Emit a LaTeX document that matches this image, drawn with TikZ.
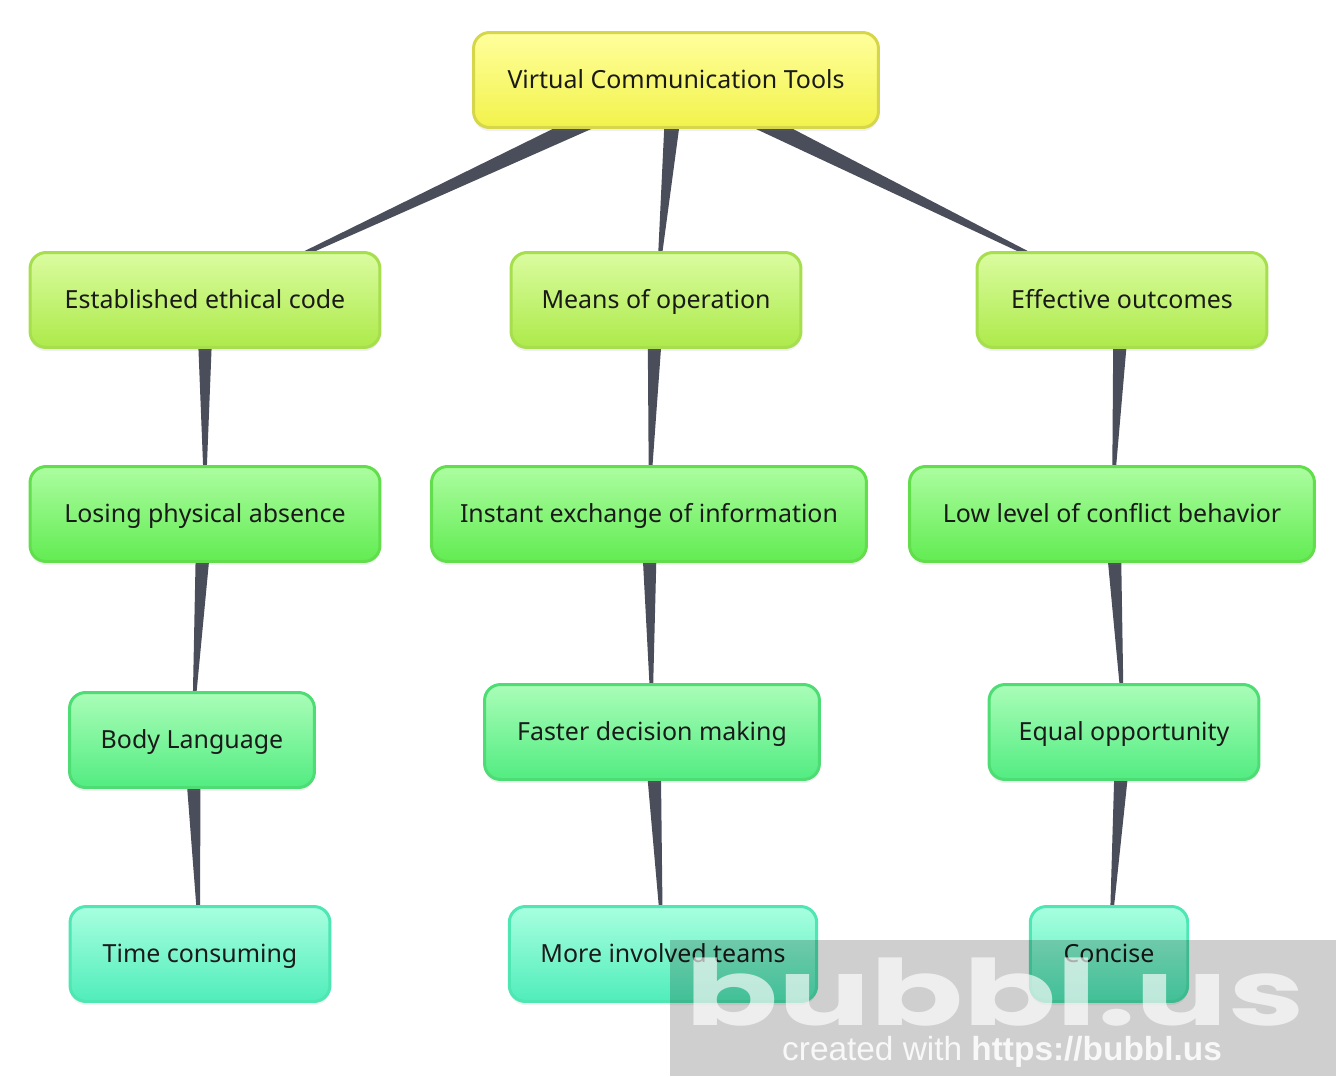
\documentclass[tikz,border=0pt]{standalone}
\usepackage{fontspec}
\setmainfont{Noto Sans}
\newfontfamily\markfont{Poppins}
\newfontfamily\urlfont{Liberation Sans}
\usetikzlibrary{calc,shadows,backgrounds}

\definecolor{txt}{HTML}{1A1A1A}
\definecolor{linkcol}{HTML}{4A4D5A}
\definecolor{rootline}{HTML}{D6D64A}
\definecolor{rootA}{HTML}{FFFF9C}
\definecolor{rootB}{HTML}{F2F24C}
\definecolor{oneline}{HTML}{A6DE4E}
\definecolor{oneA}{HTML}{DAFCA0}
\definecolor{oneB}{HTML}{ADEA4A}
\definecolor{twoline}{HTML}{62DE4C}
\definecolor{twoA}{HTML}{ACFDA0}
\definecolor{twoB}{HTML}{62EC52}
\definecolor{threeline}{HTML}{4EDC74}
\definecolor{threeA}{HTML}{AAFDB8}
\definecolor{threeB}{HTML}{52EC82}
\definecolor{fourline}{HTML}{4EE6B2}
\definecolor{fourA}{HTML}{A8FFE0}
\definecolor{fourB}{HTML}{50EDBA}

\tikzset{
  bubble/.style={rounded corners=0.32cm, line width=1.7pt, minimum height=1.9cm,
    text=txt, font=\fontsize{14.2}{17}\selectfont, text height=9.8pt, text depth=0pt,
    drop shadow={opacity=0.12, shadow xshift=0pt, shadow yshift=-2pt}},
  rootbox/.style={bubble, draw=rootline, top color=rootA, bottom color=rootB},
  onebox/.style={bubble, draw=oneline, top color=oneA, bottom color=oneB},
  twobox/.style={bubble, draw=twoline, top color=twoA, bottom color=twoB},
  threebox/.style={bubble, draw=threeline, top color=threeA, bottom color=threeB},
  fourbox/.style={bubble, draw=fourline, top color=fourA, bottom color=fourB},
}

\begin{document}
\begin{tikzpicture}[x=0.02cm,y=-0.02cm]
  \useasboundingbox (0,0) rectangle (1336,1076);

  % Root
  \node[rootbox, minimum width=8.1cm] (root) at (676,80) {Virtual Communication Tools};

  % First level
  \node[onebox, minimum width=7.0cm] (ethic) at (205,300) {Established ethical code};
  \node[onebox, minimum width=5.8cm] (means) at (656,300) {Means of operation};
  \node[onebox, minimum width=5.8cm] (effect) at (1122,300) {Effective outcomes};

  % Second level
  \node[twobox, minimum width=7.0cm] (losing) at (205,514) {Losing physical absence};
  \node[twobox, minimum width=8.7cm] (instant) at (649,514) {Instant exchange of information};
  \node[twobox, minimum width=8.1cm] (lowlvl) at (1112,514) {Low level of conflict behavior};

  % Third level
  \node[threebox, minimum width=4.9cm] (body) at (192,740) {Body Language};
  \node[threebox, minimum width=6.7cm] (faster) at (652,732) {Faster decision making};
  \node[threebox, minimum width=5.4cm] (equal) at (1124,732) {Equal opportunity};

  % Fourth level
  \node[fourbox, minimum width=5.2cm] (time) at (200,954) {Time consuming};
  \node[fourbox, minimum width=6.15cm] (teams) at (663,954) {More involved teams};
  \node[fourbox, minimum width=3.15cm] (concise) at (1109,954) {Concise};

  % Tapered links, wide at the parent, pointed at the child
  \begin{scope}[on background layer]
    \foreach \a/\b/\w in {root/ethic/0.21cm, root/means/0.19cm, root/effect/0.21cm,
        ethic/losing/0.17cm, means/instant/0.17cm, effect/lowlvl/0.17cm,
        losing/body/0.17cm, instant/faster/0.17cm, lowlvl/equal/0.17cm,
        body/time/0.17cm, faster/teams/0.17cm, equal/concise/0.17cm}
      \fill[linkcol] ($(\a)!\w!90:(\b)$) -- (\b.center) -- ($(\a)!\w!-90:(\b)$) -- cycle;
  \end{scope}

  % Watermark
  \fill[black, opacity=0.19] (670,940) rectangle (1336,1076);
  \node[anchor=base, text=white, text opacity=0.65, xscale=1.5,
        font=\markfont\bfseries\fontsize{52}{52}\selectfont] (mark) at (995,1025) {bubbl.us};
  \node[anchor=base, text=white, text opacity=0.85,
        font=\urlfont\fontsize{19}{19}\selectfont] (credit) at (1002,1060)
        {created with \textbf{https://bubbl.us}};
\end{tikzpicture}
\end{document}
